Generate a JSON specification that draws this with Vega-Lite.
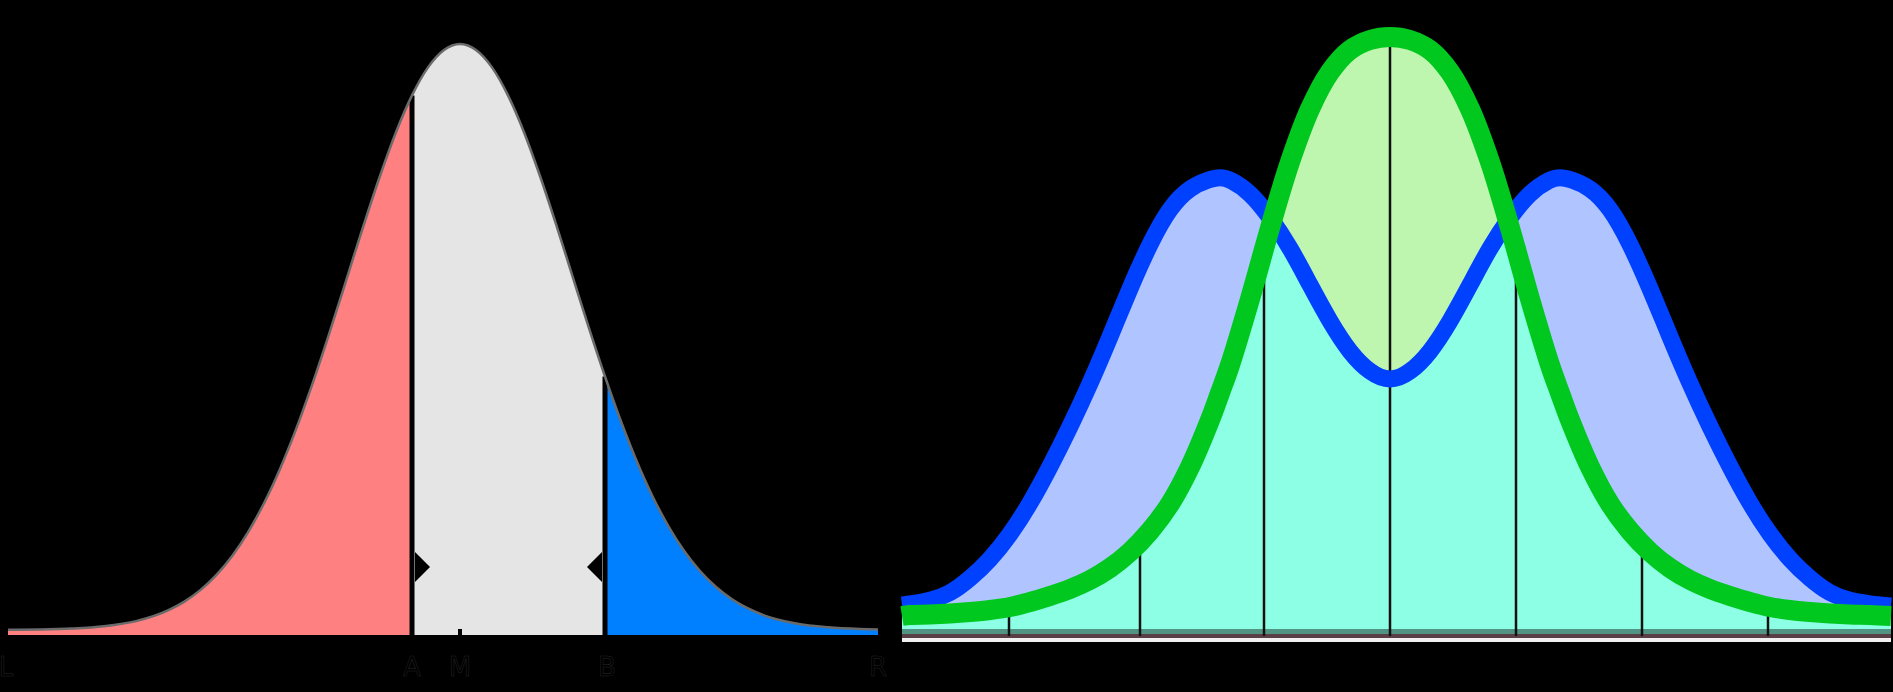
{
  "$schema": "https://vega.github.io/schema/vega-lite/v6.json",
  "width": 1893,
  "height": 692,
  "padding": 0,
  "autosize": {"type": "none"},
  "background": "black",
  "view": {"stroke": null},
  "datasets": {
    "left": [
      {"x": 8, "h": 5.2, "seg": "red"}, {"x": 40, "h": 5.5, "seg": "red"}, {"x": 72, "h": 6.5, "seg": "red"},
      {"x": 104, "h": 8.8, "seg": "red"}, {"x": 136, "h": 13.9, "seg": "red"}, {"x": 168, "h": 24.6, "seg": "red"},
      {"x": 184, "h": 33.1, "seg": "red"}, {"x": 200, "h": 44.6, "seg": "red"}, {"x": 216, "h": 59.6, "seg": "red"},
      {"x": 232, "h": 78.8, "seg": "red"}, {"x": 248, "h": 102.7, "seg": "red"}, {"x": 264, "h": 131.7, "seg": "red"},
      {"x": 280, "h": 166.1, "seg": "red"}, {"x": 296, "h": 205.6, "seg": "red"}, {"x": 312, "h": 249.8, "seg": "red"},
      {"x": 328, "h": 297.6, "seg": "red"}, {"x": 344, "h": 347.7, "seg": "red"}, {"x": 360, "h": 398.4, "seg": "red"},
      {"x": 380, "h": 459.0, "seg": "red"}, {"x": 396, "h": 502.8, "seg": "red"}, {"x": 412, "h": 539.6, "seg": "red"},
      {"x": 412, "h": 539.6, "seg": "gray"}, {"x": 428, "h": 567.6, "seg": "gray"}, {"x": 444, "h": 585.0, "seg": "gray"},
      {"x": 460, "h": 591.0, "seg": "gray"}, {"x": 476, "h": 585.0, "seg": "gray"}, {"x": 492, "h": 567.6, "seg": "gray"},
      {"x": 508, "h": 539.6, "seg": "gray"}, {"x": 524, "h": 502.8, "seg": "gray"}, {"x": 540, "h": 459.0, "seg": "gray"},
      {"x": 556, "h": 410.9, "seg": "gray"}, {"x": 572, "h": 360.4, "seg": "gray"}, {"x": 588, "h": 309.9, "seg": "gray"},
      {"x": 605, "h": 258.5, "seg": "gray"},
      {"x": 605, "h": 258.5, "seg": "blue"}, {"x": 620, "h": 216.2, "seg": "blue"}, {"x": 636, "h": 175.5, "seg": "blue"},
      {"x": 652, "h": 139.8, "seg": "blue"}, {"x": 668, "h": 109.5, "seg": "blue"}, {"x": 684, "h": 84.3, "seg": "blue"},
      {"x": 700, "h": 64.0, "seg": "blue"}, {"x": 716, "h": 48.0, "seg": "blue"}, {"x": 732, "h": 35.7, "seg": "blue"},
      {"x": 764, "h": 19.7, "seg": "blue"}, {"x": 796, "h": 11.5, "seg": "blue"}, {"x": 828, "h": 7.7, "seg": "blue"},
      {"x": 860, "h": 6.0, "seg": "blue"}, {"x": 878, "h": 5.6, "seg": "blue"}
    ],
    "right": [
      {"x": 902, "blue": 30, "green": 19},
      {"x": 910, "blue": 31, "green": 20},
      {"x": 930, "blue": 34, "green": 20.5},
      {"x": 950, "blue": 41, "green": 21.5},
      {"x": 970, "blue": 56, "green": 23},
      {"x": 990, "blue": 75, "green": 25},
      {"x": 1010, "blue": 100, "green": 28},
      {"x": 1030, "blue": 131, "green": 33},
      {"x": 1050, "blue": 168, "green": 39},
      {"x": 1070, "blue": 208, "green": 46},
      {"x": 1090, "blue": 251, "green": 55},
      {"x": 1110, "blue": 298, "green": 67},
      {"x": 1130, "blue": 347, "green": 83},
      {"x": 1150, "blue": 392, "green": 104},
      {"x": 1170, "blue": 428, "green": 131},
      {"x": 1190, "blue": 448, "green": 168},
      {"x": 1210, "blue": 456, "green": 215},
      {"x": 1220, "blue": 458, "green": 242},
      {"x": 1230, "blue": 456, "green": 270},
      {"x": 1250, "blue": 443, "green": 336},
      {"x": 1270, "blue": 418, "green": 407},
      {"x": 1290, "blue": 388, "green": 473},
      {"x": 1310, "blue": 350, "green": 526},
      {"x": 1330, "blue": 313, "green": 563},
      {"x": 1350, "blue": 282, "green": 585},
      {"x": 1370, "blue": 262, "green": 595},
      {"x": 1390, "blue": 253, "green": 598},
      {"x": 1410, "blue": 262, "green": 595},
      {"x": 1430, "blue": 282, "green": 585},
      {"x": 1450, "blue": 313, "green": 563},
      {"x": 1470, "blue": 350, "green": 526},
      {"x": 1490, "blue": 388, "green": 473},
      {"x": 1510, "blue": 418, "green": 407},
      {"x": 1530, "blue": 443, "green": 336},
      {"x": 1550, "blue": 456, "green": 270},
      {"x": 1560, "blue": 458, "green": 242},
      {"x": 1570, "blue": 456, "green": 215},
      {"x": 1590, "blue": 448, "green": 168},
      {"x": 1610, "blue": 428, "green": 131},
      {"x": 1630, "blue": 392, "green": 104},
      {"x": 1650, "blue": 347, "green": 83},
      {"x": 1670, "blue": 298, "green": 67},
      {"x": 1690, "blue": 251, "green": 55},
      {"x": 1710, "blue": 208, "green": 46},
      {"x": 1730, "blue": 168, "green": 39},
      {"x": 1750, "blue": 131, "green": 33},
      {"x": 1770, "blue": 100, "green": 28},
      {"x": 1790, "blue": 75, "green": 25},
      {"x": 1810, "blue": 56, "green": 23},
      {"x": 1830, "blue": 41, "green": 21.5},
      {"x": 1850, "blue": 34, "green": 20.5},
      {"x": 1870, "blue": 31, "green": 20},
      {"x": 1891, "blue": 29, "green": 19}
    ],
    "overlap": [
      {"x": 902, "both": 19}, {"x": 910, "both": 20}, {"x": 930, "both": 20.5}, {"x": 950, "both": 21.5},
      {"x": 970, "both": 23}, {"x": 990, "both": 25}, {"x": 1010, "both": 28}, {"x": 1030, "both": 33},
      {"x": 1050, "both": 39}, {"x": 1070, "both": 46}, {"x": 1090, "both": 55}, {"x": 1110, "both": 67},
      {"x": 1130, "both": 83}, {"x": 1150, "both": 104}, {"x": 1170, "both": 131}, {"x": 1190, "both": 168},
      {"x": 1210, "both": 215}, {"x": 1220, "both": 242}, {"x": 1230, "both": 270}, {"x": 1250, "both": 336},
      {"x": 1272, "both": 415},
      {"x": 1290, "both": 388}, {"x": 1310, "both": 350}, {"x": 1330, "both": 313}, {"x": 1350, "both": 282},
      {"x": 1370, "both": 263}, {"x": 1390, "both": 255}, {"x": 1410, "both": 263}, {"x": 1430, "both": 282},
      {"x": 1450, "both": 313}, {"x": 1470, "both": 350}, {"x": 1490, "both": 388},
      {"x": 1508, "both": 415},
      {"x": 1530, "both": 336}, {"x": 1550, "both": 270}, {"x": 1560, "both": 242}, {"x": 1570, "both": 215},
      {"x": 1590, "both": 168}, {"x": 1610, "both": 131}, {"x": 1630, "both": 104}, {"x": 1650, "both": 83},
      {"x": 1670, "both": 67}, {"x": 1690, "both": 55}, {"x": 1710, "both": 46}, {"x": 1730, "both": 39},
      {"x": 1750, "both": 33}, {"x": 1770, "both": 28}, {"x": 1790, "both": 25}, {"x": 1810, "both": 23},
      {"x": 1830, "both": 21.5}, {"x": 1850, "both": 20.5}, {"x": 1870, "both": 20}, {"x": 1891, "both": 19}
    ],
    "dividers": [
      {"x": 1009, "top": 28}, {"x": 1140, "top": 93}, {"x": 1264, "top": 385},
      {"x": 1390, "top": 598}, {"x": 1516, "top": 385}, {"x": 1642, "top": 91}, {"x": 1768, "top": 28}
    ],
    "cuts": [
      {"x": 412, "top": 539.6, "name": "A"},
      {"x": 605, "top": 258.5, "name": "B"}
    ],
    "ticks": [
      {"x": 460, "top": 6, "name": "M"}
    ],
    "strips": [
      {"x": 902, "x2": 1891, "y": 3.5, "kind": "shade"},
      {"x": 902, "x2": 1891, "y": -1, "kind": "brown"},
      {"x": 902, "x2": 1891, "y": -5, "kind": "white"}
    ],
    "labels": [
      {"x": 6, "text": "L"}, {"x": 412, "text": "A"}, {"x": 460, "text": "M"},
      {"x": 607, "text": "B"}, {"x": 878, "text": "R"}
    ],
    "arrows": [
      {"x": 422.5, "y": 68, "dir": "right"},
      {"x": 594.5, "y": 68, "dir": "left"}
    ]
  },
  "layer": [
    {
      "data": {"name": "left"},
      "mark": {"type": "area", "interpolate": "monotone"},
      "encoding": {
        "x": {"field": "x", "type": "quantitative", "scale": {"domain": [0, 1893], "nice": false, "zero": false}, "axis": null},
        "y": {"field": "h", "type": "quantitative", "scale": {"domain": [-57, 635], "nice": false, "zero": false}, "axis": null},
        "y2": {"datum": 0},
        "color": {"field": "seg", "type": "nominal", "scale": {"domain": ["red", "gray", "blue"], "range": ["#ff8080", "#e5e5e5", "#0080ff"]}, "legend": null}
      }
    },
    {
      "data": {"name": "cuts"},
      "mark": {"type": "rule", "color": "black", "strokeWidth": 5},
      "encoding": {
        "x": {"field": "x", "type": "quantitative"},
        "y": {"field": "top", "type": "quantitative"},
        "y2": {"datum": 0}
      }
    },
    {
      "data": {"name": "left"},
      "transform": [{"filter": "datum.seg !== 'gray' || (datum.x !== 412 && datum.x !== 605)"}],
      "mark": {"type": "line", "interpolate": "monotone", "color": "#6a6a6a", "strokeWidth": 2.5},
      "encoding": {
        "x": {"field": "x", "type": "quantitative"},
        "y": {"field": "h", "type": "quantitative"}
      }
    },
    {
      "data": {"name": "ticks"},
      "mark": {"type": "rule", "color": "black", "strokeWidth": 4},
      "encoding": {
        "x": {"field": "x", "type": "quantitative"},
        "y": {"field": "top", "type": "quantitative"},
        "y2": {"datum": 0}
      }
    },
    {
      "data": {"name": "arrows"},
      "transform": [{"filter": "datum.dir === 'right'"}],
      "mark": {"type": "point", "filled": true, "color": "black", "opacity": 1, "size": 900, "shape": "M -0.5 -1 L 0.5 0 L -0.5 1 Z"},
      "encoding": {
        "x": {"field": "x", "type": "quantitative"},
        "y": {"field": "y", "type": "quantitative"}
      }
    },
    {
      "data": {"name": "arrows"},
      "transform": [{"filter": "datum.dir === 'left'"}],
      "mark": {"type": "point", "filled": true, "color": "black", "opacity": 1, "size": 900, "shape": "M 0.5 -1 L -0.5 0 L 0.5 1 Z"},
      "encoding": {
        "x": {"field": "x", "type": "quantitative"},
        "y": {"field": "y", "type": "quantitative"}
      }
    },
    {
      "data": {"name": "labels"},
      "mark": {"type": "text", "fontSize": 26, "font": "DejaVu Sans", "color": "black", "stroke": "#262626", "strokeWidth": 0.5, "baseline": "middle", "align": "center"},
      "encoding": {
        "x": {"field": "x", "type": "quantitative"},
        "y": {"datum": -33, "type": "quantitative"},
        "text": {"field": "text"}
      }
    },
    {
      "data": {"name": "right"},
      "mark": {"type": "area", "interpolate": "basis", "color": "#b0c4ff"},
      "encoding": {
        "x": {"field": "x", "type": "quantitative"},
        "y": {"field": "blue", "type": "quantitative"},
        "y2": {"datum": 0}
      }
    },
    {
      "data": {"name": "right"},
      "mark": {"type": "area", "interpolate": "catmull-rom", "color": "#bef5af"},
      "encoding": {
        "x": {"field": "x", "type": "quantitative"},
        "y": {"field": "green", "type": "quantitative"},
        "y2": {"datum": 0}
      }
    },
    {
      "data": {"name": "overlap"},
      "mark": {"type": "area", "interpolate": "monotone", "color": "#8cffe4"},
      "encoding": {
        "x": {"field": "x", "type": "quantitative"},
        "y": {"field": "both", "type": "quantitative"},
        "y2": {"datum": 0}
      }
    },
    {
      "data": {"name": "strips"},
      "transform": [{"filter": "datum.kind === 'shade'"}],
      "mark": {"type": "rule", "color": "black", "opacity": 0.42, "strokeWidth": 5},
      "encoding": {
        "x": {"field": "x", "type": "quantitative"},
        "x2": {"field": "x2"},
        "y": {"field": "y", "type": "quantitative"}
      }
    },
    {
      "data": {"name": "strips"},
      "transform": [{"filter": "datum.kind === 'brown'"}],
      "mark": {"type": "rule", "color": "#5a4046", "strokeWidth": 4},
      "encoding": {
        "x": {"field": "x", "type": "quantitative"},
        "x2": {"field": "x2"},
        "y": {"field": "y", "type": "quantitative"}
      }
    },
    {
      "data": {"name": "strips"},
      "transform": [{"filter": "datum.kind === 'white'"}],
      "mark": {"type": "rule", "color": "#f0f0f0", "strokeWidth": 4},
      "encoding": {
        "x": {"field": "x", "type": "quantitative"},
        "x2": {"field": "x2"},
        "y": {"field": "y", "type": "quantitative"}
      }
    },
    {
      "data": {"name": "dividers"},
      "mark": {"type": "rule", "color": "#111111", "strokeWidth": 2.5},
      "encoding": {
        "x": {"field": "x", "type": "quantitative"},
        "y": {"field": "top", "type": "quantitative"},
        "y2": {"datum": -1}
      }
    },
    {
      "data": {"name": "right"},
      "mark": {"type": "line", "interpolate": "basis", "color": "#0040ff", "strokeWidth": 17},
      "encoding": {
        "x": {"field": "x", "type": "quantitative"},
        "y": {"field": "blue", "type": "quantitative"}
      }
    },
    {
      "data": {"name": "right"},
      "mark": {"type": "line", "interpolate": "catmull-rom", "color": "#00c81e", "strokeWidth": 20},
      "encoding": {
        "x": {"field": "x", "type": "quantitative"},
        "y": {"field": "green", "type": "quantitative"}
      }
    }
  ]
}
